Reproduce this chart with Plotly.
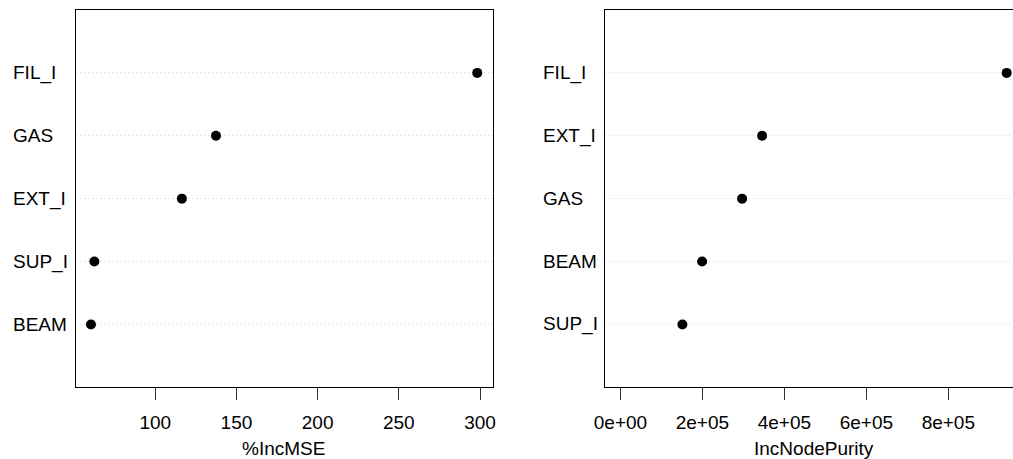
import plotly.graph_objects as go

# ---- data ----
variables = ["BEAM", "EXT_I", "FIL_I", "GAS", "SUP_I"]
inc_mse = [60.4, 116.4, 298.3, 137.4, 62.5]
inc_node_purity = [199300, 345600, 942400, 296800, 151200]

mse_tickvals = [100, 150, 200, 250, 300]
mse_ticktext = ["100", "150", "200", "250", "300"]
np_tickvals = [0, 200000, 400000, 600000, 800000]
np_ticktext = ["0e+00", "2e+05", "4e+05", "6e+05", "8e+05"]

W, H = 1013, 459
FONT = "Liberation Sans, Arial, Helvetica, sans-serif"
FS = 19

def px_x(p):
    return p / W

def px_y(p):
    return (H - p) / H

fig = go.Figure()

def sorted_panel(vals):
    order = sorted(range(len(vals)), key=lambda i: vals[i])
    names = [variables[i] for i in order]
    v = [vals[i] for i in order]
    ypos = list(range(1, len(v) + 1))
    return names, v, ypos

# left panel
n1, v1, y1 = sorted_panel(inc_mse)
fig.add_trace(go.Scatter(x=v1, y=y1, mode="markers", xaxis="x", yaxis="y",
                         marker=dict(color="black", size=10), showlegend=False,
                         hoverinfo="skip", cliponaxis=False))
# right panel
n2, v2, y2 = sorted_panel(inc_node_purity)
fig.add_trace(go.Scatter(x=v2, y=y2, mode="markers", xaxis="x2", yaxis="y2",
                         marker=dict(color="black", size=10), showlegend=False,
                         hoverinfo="skip", cliponaxis=False))

lo1, hi1 = min(v1), max(v1)
ext1 = 0.04 * (hi1 - lo1)
lo2 = -0.04 * max(v2)

ydom = [px_y(387.3), px_y(10)]

axis_common = dict(showgrid=False, zeroline=False, ticks="outside", ticklen=12,
                   tickcolor="#333", tickwidth=1, showline=True, linecolor="black",
                   linewidth=1, automargin=False, ticklabelstandoff=6,
                   tickfont=dict(family=FONT, size=FS, color="black"),
                   fixedrange=True)
yaxis_common = dict(range=[0, 6], tickvals=[1, 2, 3, 4, 5], showticklabels=False,
                    ticks="", showgrid=True, gridcolor="#d3d3d3", griddash="1px,3px",
                    gridwidth=1, zeroline=False, showline=True, linecolor="black",
                    linewidth=1, fixedrange=True, automargin=False)

fig.update_layout(
    width=W, height=H,
    margin=dict(l=0, r=0, t=0, b=0, pad=0, autoexpand=False),
    paper_bgcolor="white", plot_bgcolor="white",
    xaxis=dict(domain=[px_x(75.5), px_x(492.7)], range=[lo1 - ext1, hi1 + ext1],
               tickvals=mse_tickvals, ticktext=mse_ticktext, mirror=True,
               anchor="y", **axis_common),
    yaxis=dict(domain=ydom, anchor="x", mirror=True, **yaxis_common),
    xaxis2=dict(domain=[px_x(605), 1.0], range=[lo2, 957800],
                tickvals=np_tickvals, ticktext=np_ticktext, mirror=True,
                anchor="y2", **axis_common),
    yaxis2=dict(domain=ydom, anchor="x2", mirror=False, **yaxis_common),
)

# left-aligned category labels (as in R dotchart)
for names, ypos, xr, ya in [(n1, y1, 12, "y"), (n2, y2, 541.7, "y2")]:
    for nm, yy in zip(names, ypos):
        fig.add_annotation(text=nm, x=px_x(xr), xref="paper", xanchor="left",
                           y=yy, yref=ya, yanchor="middle", showarrow=False,
                           borderpad=0, font=dict(family=FONT, size=FS, color="black"))

# axis titles
for title, cx in [("%IncMSE", 283.5), ("IncNodePurity", 814)]:
    fig.add_annotation(text=title, x=px_x(cx), xref="paper", xanchor="center",
                       y=px_y(448), yref="paper", yanchor="middle", showarrow=False,
                       borderpad=0, font=dict(family=FONT, size=FS, color="black"))

fig.write_html("out.html", config={"displayModeBar": False})
